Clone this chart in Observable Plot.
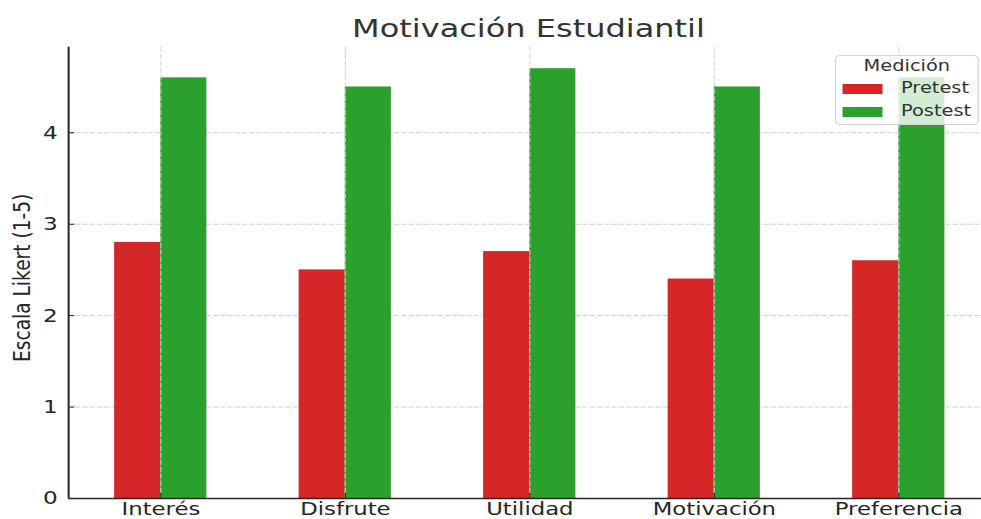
<!DOCTYPE html>
<html><head><meta charset="utf-8">
<script src="https://cdn.jsdelivr.net/npm/d3@7"></script>
<script src="https://cdn.jsdelivr.net/npm/@observablehq/plot@0.6"></script>
<style>
html,body{margin:0;padding:0;background:#fff;overflow:hidden;}
#wrap{position:relative;width:785px;height:519px;transform:scaleX(1.25);transform-origin:0 0;font-family:"DejaVu Sans",sans-serif;color:#262626;}
#title{position:absolute;left:22.8px;width:800px;top:16.3px;font-size:25.6px;line-height:25.6px;text-align:center;white-space:nowrap;color:#333;}
#chart{position:absolute;left:0;top:46px;}
#legend{position:absolute;left:668px;top:55px;width:115px;height:70px;box-sizing:border-box;border:1px solid #d4d4d4;border-radius:4px;background:rgba(255,255,255,0.8);font-size:15.5px;line-height:15.5px;color:#333;}
#legend .lt{position:absolute;left:0;right:0;top:3.2px;text-align:center;white-space:nowrap;}
#legend .sw{position:absolute;left:5px;width:32px;height:10px;}
#legend .lb{position:absolute;left:51.8px;white-space:nowrap;}
</style></head><body>
<div id="wrap">
  <div id="title"></div>
  <div id="chart"></div>
  <div id="legend"></div>
</div>
<script>
const categories = ["Interés", "Disfrute", "Utilidad", "Motivación", "Preferencia"];
const series = ["Pretest", "Postest"];
const pretest = [2.8, 2.5, 2.7, 2.4, 2.6];
const postest = [4.6, 4.5, 4.7, 4.5, 4.6];
const colors = ["#d62728", "#2ca02c"];
const yTicks = [0, 1, 2, 3, 4];
const titleText = "Motivación Estudiantil";
const yLabel = "Escala Likert (1-5)";
const legendTitle = "Medición";

const barWidth = 0.25;
const xDomain = [-0.5, categories.length - 0.5];
const xTicks = categories.map((c, i) => i);

const rows = [];
categories.forEach((c, i) => {
  rows.push({category: c, idx: i, series: series[0], value: pretest[i], s: 0});
  rows.push({category: c, idx: i, series: series[1], value: postest[i], s: 1});
});

document.getElementById("title").textContent = titleText;

const gridStyle = {stroke: "#cfcfcf", strokeOpacity: 1, strokeWidth: 1, strokeDasharray: "4,1.8"};

const chart = Plot.plot({
  width: 785,
  height: 473,
  marginLeft: 54.4,
  marginRight: 0,
  marginTop: 0.7,
  marginBottom: 21,
  style: {fontFamily: "DejaVu Sans", fontSize: "18.5px", color: "#262626", background: "transparent"},
  x: {type: "linear", domain: xDomain, range: [54.4, 54.4 + 147.6 * categories.length]},
  y: {domain: [0, 4.935]},
  color: {domain: series, range: colors},
  marks: [
    Plot.gridY(yTicks, gridStyle),
    Plot.rectY(rows, {
      x1: d => d.idx - barWidth + d.s * barWidth,
      x2: d => d.idx + d.s * barWidth,
      y: "value",
      fill: "series"
    }),
    Plot.gridX(xTicks, {stroke: "#cfcfcf", strokeOpacity: 0.8, strokeWidth: 1, strokeDasharray: "5,2"}),
    Plot.ruleY([0], {stroke: "#262626", strokeWidth: 1.4}),
    Plot.ruleX([xDomain[0]], {stroke: "#262626", strokeWidth: 1.6}),
    Plot.axisY(yTicks, {tickSize: -5, tickPadding: 13.8, fontSize: 18.5, label: null, tickFormat: d => String(d)}),
    Plot.axisX(xTicks, {tickSize: -5, tickPadding: 9.0, fontSize: 18.2, label: null, tickFormat: i => categories[i]}),
    Plot.text([yLabel], {text: d => d, frameAnchor: "left", textAnchor: "middle", rotate: -90, dx: -44.2, dy: 5, lineAnchor: "top", fontSize: 18.6, fill: "#262626"})
  ]
});
document.getElementById("chart").appendChild(chart);

const legend = document.getElementById("legend");
const lt = document.createElement("div");
lt.className = "lt";
lt.textContent = legendTitle;
legend.appendChild(lt);
const swTops = [28, 50.7];
const lbTops = [24.9, 47.9];
series.forEach((s, i) => {
  const sw = document.createElement("div");
  sw.className = "sw";
  sw.style.top = swTops[i] + "px";
  sw.style.background = colors[i];
  legend.appendChild(sw);
  const lb = document.createElement("div");
  lb.className = "lb";
  lb.style.top = lbTops[i] + "px";
  lb.textContent = s;
  legend.appendChild(lb);
});
</script>
</body></html>
